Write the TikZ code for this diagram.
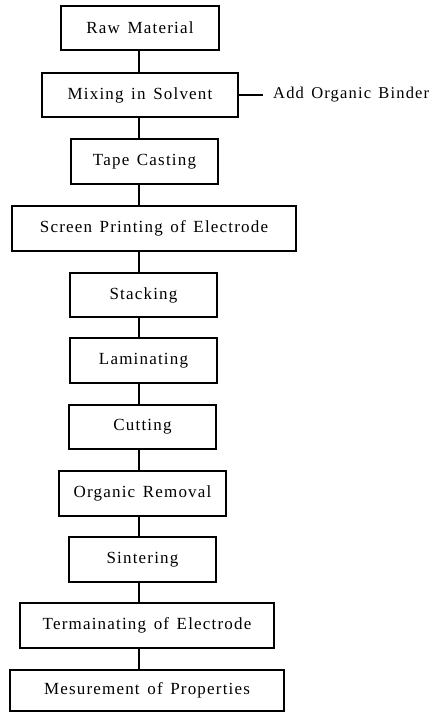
\documentclass[tikz,border=0pt]{standalone}
\usepackage{fontspec}
\setmainfont[LetterSpace=7,WordSpace=1.4]{Liberation Serif}
\begin{document}
\begin{tikzpicture}[x=1pt,y=-1pt,
  stepbox/.style={draw,line width=1.2pt,minimum height=44pt,inner sep=0pt,font=\fontsize{17}{19}\selectfont},
  link/.style={line width=1.2pt}]
\useasboundingbox (0,0) rectangle (440,712);
\node[stepbox,minimum width=158pt] (raw) at (140,28) {Raw Material};
\node[stepbox,minimum width=196pt] (mix) at (140,95) {Mixing in Solvent};
\node[stepbox,minimum width=147pt,minimum height=45pt] (tape) at (144.5,161.5) {Tape Casting};
\node[stepbox,minimum width=284pt,minimum height=45pt] (screen) at (154,228.5) {Screen Printing of Electrode};
\node[stepbox,minimum width=147pt] (stack) at (143.5,295) {Stacking};
\node[stepbox,minimum width=147pt,minimum height=45pt] (lam) at (143.5,360.5) {Laminating};
\node[stepbox,minimum width=147pt] (cut) at (142.5,427) {Cutting};
\node[stepbox,minimum width=167pt,minimum height=45pt] (org) at (142.5,493.5) {Organic Removal};
\node[stepbox,minimum width=147pt,minimum height=45pt] (sint) at (142.5,559.5) {Sintering};
\node[stepbox,minimum width=254pt,minimum height=45pt] (term) at (147,625.5) {Termainating of Electrode};
\node[stepbox,minimum width=274pt,minimum height=41pt] (mes) at (147,690.5) {Mesurement of Properties};
\node[anchor=west,inner sep=0pt,font=\fontsize{16.5}{19}\selectfont] (bind) at (273,95) {Add Organic Binder};
\coordinate (cx) at (139,0);
\draw[link] (raw.south -| cx) -- (mix.north -| cx);
\draw[link] (mix.south -| cx) -- (tape.north -| cx);
\draw[link] (tape.south -| cx) -- (screen.north -| cx);
\draw[link] (screen.south -| cx) -- (stack.north -| cx);
\draw[link] (stack.south -| cx) -- (lam.north -| cx);
\draw[link] (lam.south -| cx) -- (cut.north -| cx);
\draw[link] (cut.south -| cx) -- (org.north -| cx);
\draw[link] (org.south -| cx) -- (sint.north -| cx);
\draw[link] (sint.south -| cx) -- (term.north -| cx);
\draw[link] (term.south -| cx) -- (mes.north -| cx);
\draw[link,shorten >=10pt] (mix.east) -- (bind.west);
\end{tikzpicture}
\end{document}
